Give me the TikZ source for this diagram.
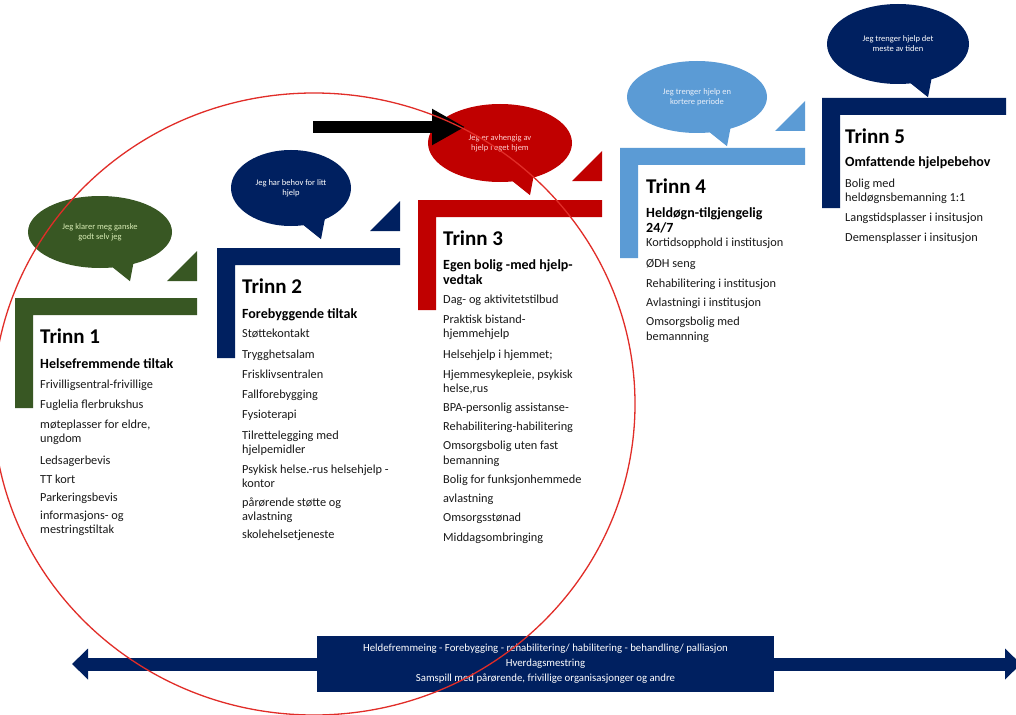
\documentclass[tikz,border=0pt]{standalone}
\usepackage{fontspec}
\setmainfont{Carlito}
\usetikzlibrary{shapes.geometric,arrows.meta,calc}
\definecolor{cgreen}{RGB}{56,87,35}
\definecolor{cnavy}{RGB}{0,32,96}
\definecolor{cred}{RGB}{192,0,0}
\definecolor{cblue}{RGB}{91,155,213}
\definecolor{ctext}{RGB}{25,25,25}
\definecolor{btgreen}{RGB}{215,235,180}
\definecolor{btred}{RGB}{255,205,205}
\definecolor{btlight}{RGB}{235,240,250}
\definecolor{cline}{RGB}{225,45,40}
\newcommand\lbar[4]{\fill[#1] (#2,#4) -- (#3,#4) -- (#3,#4+17) -- (#2+18,#4+17) -- (#2+18,#4+110) -- (#2,#4+110) -- cycle;}
\newcommand\ltri[3]{\fill[#1] (#2-30,#3) -- (#2,#3) -- (#2,#3-30) -- cycle;}
\newcommand\bubble[8]{%
  \node[bub, fill=#6, text=#7, minimum width=2*#4, minimum height=2*#5] (#1) at (#2,#3) {#8};
  \fill[#6] ($(#1.south)+(10,-3)$) -- ($(#1.south)+(34,-8)$) -- ($(#1.south)+(30,13)$) -- cycle;}
\newcommand\column[4]{% prefix, x, trinn-y, list
  \foreach \yy/\tx [count=\k] in {#4} {\node[itm] (#1-\k) at (#2,\yy) {\tx};}}
\begin{document}
\begin{tikzpicture}[x=1pt,y=-1pt,
  bub/.style={shape=ellipse, inner sep=0pt, align=center, font=\fontsize{8.5}{10}\selectfont},
  itm/.style={anchor=west, inner sep=0pt, text=ctext, font=\fontsize{12.3}{14}\selectfont, text height=8.5pt, text depth=2.5pt},
  ttl/.style={anchor=west, inner sep=0pt, text=black, font=\bfseries\fontsize{14}{16}\selectfont, text height=10pt, text depth=2pt},
  trinn/.style={anchor=west, inner sep=0pt, text=black, font=\bfseries\fontsize{21}{24}\selectfont, text height=13.5pt, text depth=0pt}]
\useasboundingbox (0,0) rectangle (1016,714);
\fill[white] (0,0) rectangle (1016,714);

% L bars and triangles
\lbar{cgreen}{15}{197}{298}
\ltri{cgreen}{197}{281}
\lbar{cnavy}{217}{400}{248}
\ltri{cnavy}{400}{231}
\lbar{cred}{418}{602}{200}
\ltri{cred}{602}{181}
\lbar{cblue}{620}{805}{148}
\ltri{cblue}{805}{131}
\lbar{cnavy}{822}{1006}{98}

% speech bubbles
\bubble{b1}{100}{232}{72}{36}{cgreen}{btgreen}{Jeg klarer meg ganske\\godt selv jeg}
\bubble{b2}{291}{188}{60}{38}{cnavy}{white}{Jeg har behov for litt\\hjelp}
\bubble{b3}{500}{143}{72}{39}{cred}{btred}{Jeg er avhengig av\\hjelp i eget hjem}
\bubble{b4}{697}{97}{70}{36}{cblue}{btlight}{Jeg trenger hjelp en\\kortere periode}
\bubble{b5}{898}{44}{71}{40}{cnavy}{white}{Jeg trenger hjelp det\\meste av tiden}

% step 1
\node[trinn] (t1) at (40,337) {Trinn 1};
\node[ttl] (h1) at (40,364) {Helsefremmende tiltak};
\column{c1}{40}{337}{385/{Frivilligsentral-frivillige},405/{Fuglelia flerbrukshus},425/{møteplasser for eldre,},439/{ungdom},461/{Ledsagerbevis},480/{TT kort},498/{Parkeringsbevis},516/{informasjons- og},530/{mestringstiltak}}

% step 2
\node[trinn] (t2) at (242,287) {Trinn 2};
\node[ttl] (h2) at (242,314) {Forebyggende tiltak};
\column{c2}{242}{287}{334/{Støttekontakt},355/{Trygghetsalam},375/{Frisklivsentralen},395/{Fallforebygging},415/{Fysioterapi},436/{Tilrettelegging med},450/{hjelpemidler},470/{Psykisk helse.-rus helsehjelp -},484/{kontor},503/{pårørende støtte og},517/{avlastning},535/{skolehelsetjeneste}}

% step 3
\node[trinn] (t3) at (443,239) {Trinn 3};
\node[ttl] (h3a) at (443,265) {Egen bolig -med hjelp-};
\node[ttl] (h3b) at (443,280) {vedtak};
\column{c3}{443}{239}{300/{Dag- og aktivitetstilbud},320/{Praktisk bistand-},334/{hjemmehjelp},355/{Helsehjelp i hjemmet;},375/{Hjemmesykepleie, psykisk},389/{helse,rus},408/{BPA-personlig assistanse-},427/{Rehabilitering-habilitering},446/{Omsorgsbolig uten fast},461/{bemanning},480/{Bolig for funksjonhemmede},499/{avlastning},518/{Omsorgsstønad},538/{Middagsombringing}}

% step 4
\node[trinn] (t4) at (646,187) {Trinn 4};
\node[ttl] (h4a) at (646,213) {Heldøgn-tilgjengelig};
\node[ttl] (h4b) at (646,228) {24/7};
\column{c4}{646}{187}{243/{Kortidsopphold i institusjon},264/{ØDH seng},284/{Rehabilitering i institusjon},303/{Avlastningi i institusjon},322/{Omsorgsbolig med},337/{bemannning}}

% step 5
\node[trinn] (t5) at (845,137) {Trinn 5};
\node[ttl] (h5) at (845,163) {Omfattende hjelpebehov};
\column{c5}{845}{137}{184/{Bolig med},198/{heldøgnsbemanning 1:1},218/{Langstidsplasser i insitusjon},238/{Demensplasser i insitusjon}}

% bottom bar
\node[fill=cnavy, minimum width=457pt, minimum height=56pt, inner sep=0pt, text=white, align=center, font=\fontsize{10.8}{15}\selectfont] (bar) at (545.5,664) {Heldefremmeing - Forebygging - rehabilitering/ habilitering - behandling/ palliasjon\\Hverdagsmestring\\Samspill med pårørende, frivillige organisasjonger og andre};
\coordinate (al) at (72,664);
\coordinate (ar) at (1021,664);
\draw[cnavy, line width=13pt, -{Triangle[length=16pt,width=30pt]}] (bar.west) -- (al);
\draw[cnavy, line width=13pt, -{Triangle[length=16pt,width=30pt]}] (bar.east) -- (ar);

% black arrow
\coordinate (bs) at (313,127);
\coordinate (bt) at (465,127);
\draw[black, line width=12pt, -{Triangle[length=33pt,width=34pt]}] (bs) -- (bt);

% red circle
\draw[cline, line width=1.3pt] (314,404) ellipse [x radius=321pt, y radius=311pt];
\end{tikzpicture}
\end{document}
